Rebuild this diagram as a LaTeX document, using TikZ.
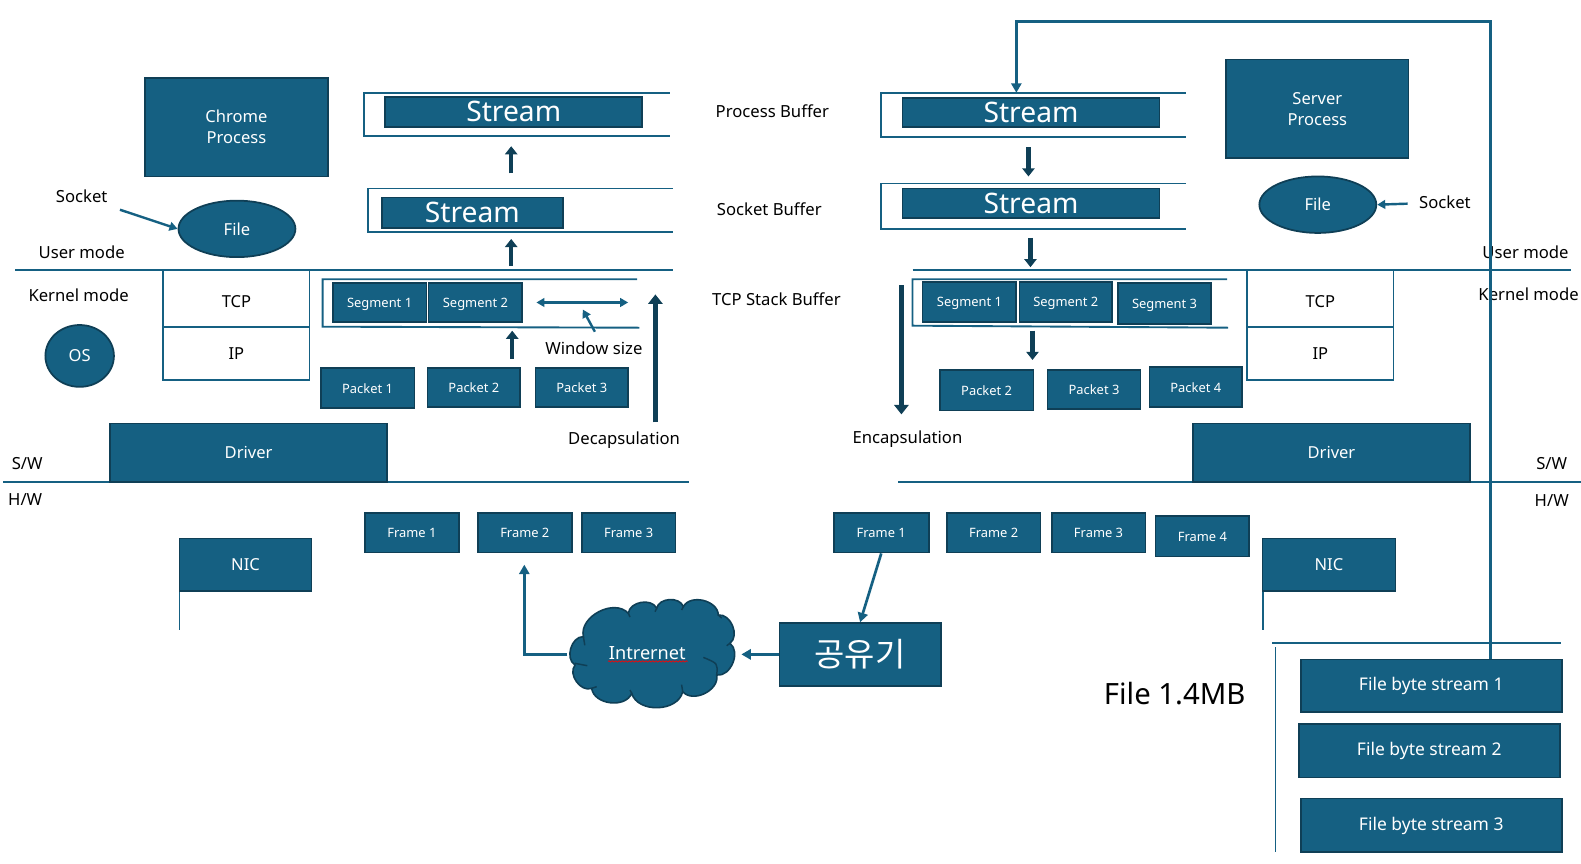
\documentclass[tikz,border=0pt]{standalone}
\usepackage{fontspec}
\setmainfont{Noto Sans}
\newfontfamily\krfont{Noto Sans CJK KR}
\usetikzlibrary{arrows.meta,decorations.pathmorphing,shapes.geometric}
\definecolor{fillblue}{HTML}{156082}
\definecolor{edgeblue}{HTML}{0F3F56}
\definecolor{lineblue}{HTML}{156082}
\tikzset{
  boxshape/.style={draw=edgeblue,fill=fillblue,line width=1.3pt,text=white,align=center,inner sep=0pt},
  ell/.style={boxshape,ellipse},
  plainbox/.style={draw=lineblue,fill=white,line width=1.4pt,text=black,inner sep=0pt},
  rule/.style={draw=lineblue,line width=1.5pt},
  frameline/.style={draw=lineblue,line width=1.4pt},
  link/.style={draw=lineblue,line width=2pt,-{Triangle[length=7pt,width=7.5pt]}},
  thinlink/.style={draw=lineblue,line width=1.8pt,-{Triangle[length=6pt,width=6.5pt]}},
  blockarrow/.style={draw=edgeblue,line width=3.2pt,-{Triangle[length=6pt,width=9pt]}},
  bigarrow/.style={draw=edgeblue,line width=3.8pt,-{Triangle[length=7pt,width=10.5pt]}},
  lab/.style={text=black,inner sep=0pt,font=\fontsize{12.4}{15}\selectfont},
  big/.style={font=\fontsize{21}{25}\selectfont},
  mid/.style={font=\fontsize{12.3}{15.75}\selectfont},
  small/.style={font=\fontsize{9.6}{12}\selectfont,text height=.72em,text depth=0pt},
  fbs/.style={font=\fontsize{13}{16}\selectfont,text height=.72em,text depth=0pt},
  puff/.style={bend left=75,looseness=1.05},
}
\newcommand{\bx}[7][]{\node[boxshape,#1,minimum width={(#4-#2)*0.75pt},minimum height={(#5-#3)*0.75pt}] (#7) at ({(#2+#4)/2},{(#3+#5)/2}) {#6};}
\newcommand{\pb}[7][]{\node[plainbox,mid,#1,minimum width={(#4-#2)*0.75pt},minimum height={(#5-#3)*0.75pt}] (#7) at ({(#2+#4)/2},{(#3+#5)/2}) {#6};}
\begin{document}
\begin{tikzpicture}[x=0.75pt,y=-0.75pt]
\useasboundingbox (0,0) rectangle (1568,856);
% ---- horizontal rules
\coordinate (ul1) at (15,268); \coordinate (ul2) at (667,268);
\coordinate (ur1) at (905,268); \coordinate (ur2) at (1558,268);
\coordinate (hl1) at (3,478); \coordinate (hl2) at (683,478);
\coordinate (hr1) at (891,478); \coordinate (hr2) at (1568,478);
\draw[rule] (ul1) -- (ul2);
\draw[rule] (ur1) -- (ur2);
\draw[rule] (hl1) -- (hl2);
\draw[rule] (hr1) -- (hr2);
% ---- frames
\draw[frameline] (664,92) -- (361,92) -- (361,135) -- (664,135);
\draw[frameline] (667,187) -- (365,187) -- (365,230) -- (667,230);
\draw[frameline] (632,277) -- (320,277) -- (320,324) -- (634,325);
\draw[frameline] (1176,92) -- (874,92) -- (874,136) -- (1176,136);
\draw[frameline] (1176,182) -- (874,182) -- (874,227) -- (1176,227);
\draw[frameline] (1217,277) -- (905,277) -- (905,323) -- (1218,325);
\draw[frameline] (178,586) -- (178,625);
\draw[frameline] (1253,586) -- (1253,625);
\draw[frameline] (1548,638) -- (1262,638);
\draw[frameline] (1265,642) -- (1265,845);
% ---- left side
\bx[mid]{144}{77}{325}{175}{Chrome\\Process}{chrome}
\bx[big]{382}{96}{637}{126}{Stream}{ls1}
\bx[big]{379}{196}{558}{226}{Stream}{ls2}
\node[ell,mid,minimum width=87pt,minimum height=42pt] (lfile) at (235,227) {File};
\node[ell,mid,minimum width=51pt,minimum height=46pt] (os) at (79,353) {OS};
\pb[text height=12.8pt,text depth=0pt]{162}{268}{307}{324}{TCP}{ltcp}
\pb[text height=9.8pt,text depth=0pt]{162}{324}{307}{377}{IP}{lip}
\bx[small]{330}{281}{423}{319}{Segment 1}{lseg1}
\bx[small]{425}{281}{518}{319}{Segment 2}{lseg2}
\bx[small]{318}{365}{411}{405}{Packet 1}{lp1}
\bx[small]{424}{365}{516}{404}{Packet 2}{lp2}
\bx[small]{531}{365}{623}{404}{Packet 3}{lp3}
\bx[mid]{109}{420}{384}{478}{Driver}{ldrv}
\bx[small]{362}{509}{455}{548}{Frame 1}{lf1}
\bx[small]{474}{509}{567}{548}{Frame 2}{lf2}
\bx[small]{577}{509}{670}{548}{Frame 3}{lf3}
\bx[mid]{178}{534}{309}{586}{NIC}{lnic}
% ---- right side
\bx[big]{895}{97}{1150}{126}{Stream}{rs1}
\bx[big]{895}{187}{1150}{216}{Stream}{rs2}
\bx[mid]{1216}{59}{1397}{157}{Server\\Process}{server}
\node[ell,mid,minimum width=87pt,minimum height=42pt] (rfile) at (1307,203) {File};
\pb[text height=12.8pt,text depth=0pt]{1237}{268}{1382}{324}{TCP}{rtcp}
\pb[text height=9.8pt,text depth=0pt]{1237}{324}{1382}{377}{IP}{rip}
\bx[small]{915}{280}{1008}{319}{Segment 1}{rseg1}
\bx[small]{1011}{280}{1103}{319}{Segment 2}{rseg2}
\bx[small]{1109}{281}{1201}{321}{Segment 3}{rseg3}
\bx[small]{932}{367}{1025}{407}{Packet 2}{rp2}
\bx[small]{1039}{367}{1131}{406}{Packet 3}{rp3}
\bx[small]{1140}{364}{1232}{404}{Packet 4}{rp4}
\bx[mid]{1183}{420}{1458}{478}{Driver}{rdrv}
\bx[small]{827}{509}{921}{548}{Frame 1}{rf1}
\bx[small]{939}{509}{1032}{548}{Frame 2}{rf2}
\bx[small]{1043}{509}{1136}{548}{Frame 3}{rf3}
\bx[small]{1146}{512}{1239}{552}{Frame 4}{rf4}
\bx[mid]{1252}{534}{1384}{586}{NIC}{rnic}
\bx[fbs]{1290}{654}{1549}{706}{File byte stream 1}{fb1}
\bx[fbs]{1288}{718}{1547}{771}{File byte stream 2}{fb2}
\bx[fbs]{1290}{792}{1549}{845}{File byte stream 3}{fb3}
\bx[font=\fontsize{24.5}{28}\selectfont\krfont]{773}{618}{933}{680}{공유기}{router}
% ---- cloud
\draw[draw=edgeblue,fill=fillblue,line width=1.2pt]
  (578.6,631.4) to[puff] (623.2,608.3)
  to[puff] (651.3,603.3)
  to[puff] (677.7,601.7)
  to[puff] (712.4,610)
  to[puff] (724,638)
  to[puff] (710.8,669.5)
  to[puff] (677.1,686)
  to[puff] (626.5,687.6)
  to[puff] (586.8,682.7)
  to[puff] (570.3,659.6)
  to[puff] (578.6,631.4) -- cycle;
\draw[draw=edgeblue,line width=1.1pt]
  (570.3,657.9) -- (582.5,660.2)
  (578.6,631.4) -- (580,640)
  (712.4,610) -- (715.8,613)
  (724,638) -- (720.7,640.4)
  (710.8,669.5) .. controls (712,658) .. (697.6,652)
  (677.1,686) -- (676,679)
  (626.5,687.6) -- (624.9,684.4)
  (586.8,682.7) -- (591.8,681)
  (623.2,608.3) -- (624.8,612)
  (651.3,603.3) -- (649.6,606.7)
  (677.7,601.7) -- (676,605);
\node[inner sep=0pt,minimum width=129pt,minimum height=79.5pt] (cloud) at (649,649) {};
\node[inner sep=0pt,text=white,font=\fontsize{13.5}{16}\selectfont] (cloudtxt) at (642,647.5) {Intrernet};
\coordinate (wave1) at (603,656); \coordinate (wave2) at (682,656);
\draw[red,line width=0.5pt,decorate,decoration={snake,amplitude=0.5pt,segment length=2.5pt}] (wave1) -- (wave2);
% ---- labels
\node[lab] (t1) at (766,110.5) {Process Buffer};
\node[lab] (t2) at (763,207.5) {Socket Buffer};
\node[lab] (t3) at (770,296.5) {TCP Stack Buffer};
\node[lab] (t4) at (81,194.5) {Socket};
\node[lab] (t5) at (81,250) {User mode};
\node[lab] (t6) at (78,292.5) {Kernel mode};
\node[lab] (t7) at (589,345.5) {Window size};
\node[lab] (t8) at (619,437) {Decapsulation};
\node[lab] (t9) at (27,459.5) {S/W};
\node[lab] (t10) at (25,495.5) {H/W};
\node[lab] (t11) at (1433,200.5) {Socket};
\node[lab] (t12) at (1513,250) {User mode};
\node[lab] (t13) at (1516,291.5) {Kernel mode};
\node[lab] (t14) at (900,436) {Encapsulation};
\node[lab] (t15) at (1539,459.5) {S/W};
\node[lab] (t16) at (1539,496.5) {H/W};
\node[lab,font=\fontsize{21.8}{26}\selectfont] (t17) at (1165,688) {File 1.4MB};
% ---- connector end points
\coordinate (a1s) at (507,172); \coordinate (a1e) at (507,145);
\coordinate (a2s) at (507,264); \coordinate (a2e) at (507,237);
\coordinate (a3s) at (508,356); \coordinate (a3e) at (508,328);
\coordinate (a4s) at (650,419); \coordinate (a4e) at (650,292);
\coordinate (a5s) at (1020,146); \coordinate (a5e) at (1020,175);
\coordinate (a6s) at (1022,236); \coordinate (a6e) at (1022,265);
\coordinate (a7s) at (1024,328); \coordinate (a7e) at (1024,357);
\coordinate (a8s) at (894,283); \coordinate (a8e) at (894,411);
\coordinate (s1) at (119,208); \coordinate (s2) at (1396,202);
\coordinate (w1) at (532,300); \coordinate (w2) at (623,300);
\coordinate (w3) at (590,329); \coordinate (w4) at (578,307);
\coordinate (t0) at (520,560);
\coordinate (c1) at (1478,21); \coordinate (c2) at (1008,21); \coordinate (c3) at (1008,92);
% ---- connectors
\draw[blockarrow] (a1s) -- (a1e);
\draw[blockarrow] (a2s) -- (a2e);
\draw[blockarrow] (a3s) -- (a3e);
\draw[bigarrow] (a4s) -- (a4e);
\draw[blockarrow] (a5s) -- (a5e);
\draw[blockarrow] (a6s) -- (a6e);
\draw[blockarrow] (a7s) -- (a7e);
\draw[bigarrow] (a8s) -- (a8e);
\draw[thinlink] (s1) -- (lfile.west);
\draw[thinlink] (s2) -- (rfile.east);
\draw[draw=lineblue,line width=1.8pt,{Triangle[length=6pt,width=6.5pt]}-{Triangle[length=6pt,width=6.5pt]}] (w1) -- (w2);
\draw[thinlink] (w3) -- (w4);
\draw[link] (cloud.west) -| (t0);
\draw[link] (router.west) -- (cloud.east);
\draw[link] (rf1.south) -- (router.north);
\draw[link] (c1 |- fb1.north) -- (c1) -- (c2) -- (c3);
\end{tikzpicture}
\end{document}
